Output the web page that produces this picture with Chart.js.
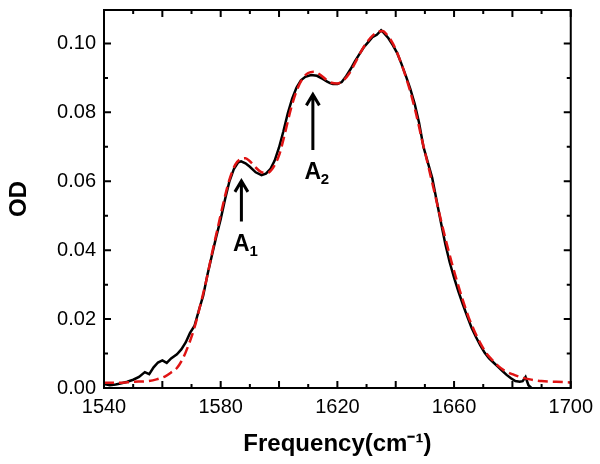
<!DOCTYPE html>
<html>
<head>
<meta charset="utf-8">
<script src="https://cdn.jsdelivr.net/npm/chart.js@4.4.1/dist/chart.umd.min.js"></script>
<style>
  html, body { margin: 0; padding: 0; background: #fff; }
  #OdChart { display: block; }
</style>
</head>
<body>
<canvas id="OdChart" width="600" height="464"></canvas>
<script>
// measured spectrum (black line)
const measuredFreq = [1540, 1542, 1544, 1546, 1548, 1550, 1552, 1554, 1555.5, 1557, 1558.5, 1560, 1561.5, 1563, 1565, 1566.5,
    1568, 1569.5, 1571, 1572.5, 1574, 1575.5, 1577, 1578.5, 1580, 1581.5, 1583, 1584.5, 1586, 1587, 1588.5, 1590,
    1592, 1594, 1595.5, 1597, 1598.5, 1600, 1601.5, 1603, 1604.5, 1606, 1607.5, 1609, 1611, 1613, 1615, 1616.5,
    1617.5, 1618.5, 1620, 1621.5, 1623, 1624.5, 1626, 1627.5, 1629, 1630.5, 1632, 1633.5, 1635, 1636, 1637.5, 1639,
    1640.5, 1642, 1643.5, 1645, 1646.5, 1648, 1649.5, 1651, 1652.5, 1654, 1655.5, 1657, 1658.5, 1660, 1661.5, 1663,
    1664.5, 1666, 1667.5, 1669, 1670.5, 1672, 1673.5, 1675, 1676.5, 1678, 1679.5, 1681, 1682.5, 1683.5, 1684.5, 1685.5, 1686.5];
const measuredOD = [0.0012, 0.0008, 0.0010, 0.0014, 0.0018, 0.0024, 0.0032, 0.0046, 0.0040, 0.0060, 0.0074, 0.0080, 0.0073, 0.0086, 0.0098, 0.0112,
    0.0132, 0.0160, 0.0180, 0.0225, 0.0268, 0.0330, 0.0385, 0.0440, 0.0490, 0.0548, 0.0600, 0.0635, 0.0655, 0.0658, 0.0652, 0.0642,
    0.0626, 0.0618, 0.0622, 0.0635, 0.0660, 0.0698, 0.0745, 0.0797, 0.0840, 0.0872, 0.0893, 0.0903, 0.0908, 0.0906, 0.0897, 0.0889,
    0.0885, 0.0882, 0.0882, 0.0888, 0.0905, 0.0925, 0.0948, 0.0968, 0.0988, 0.1003, 0.1018, 0.1025, 0.1038, 0.1030, 0.1015, 0.0995,
    0.0972, 0.0940, 0.0905, 0.0868, 0.0825, 0.0770, 0.0700, 0.0655, 0.0610, 0.0545, 0.0480, 0.0418, 0.0365, 0.0320, 0.0280, 0.0243,
    0.0208, 0.0175, 0.0148, 0.0124, 0.0102, 0.0086, 0.0074, 0.0062, 0.0050, 0.0038, 0.0028, 0.0020, 0.0018, 0.0020, 0.0032, 0.0008, 0.0];

// fitted curve (red dashed line)
const fitFreq = [1540, 1545, 1550, 1555, 1558, 1561, 1563, 1565, 1567, 1569, 1571, 1573, 1575, 1577, 1579, 1581,
    1583, 1585, 1587, 1588.5, 1590, 1592, 1594, 1596, 1598, 1600, 1602, 1604, 1606, 1608, 1610, 1612,
    1614, 1616, 1618, 1620, 1622, 1624, 1626, 1628, 1630, 1632, 1634, 1635.5, 1637, 1639, 1641, 1643,
    1645, 1647, 1649, 1651, 1653, 1655, 1657, 1659, 1661, 1663, 1665, 1667, 1669, 1671, 1673, 1675,
    1677, 1680, 1683, 1686, 1690, 1695, 1700];
const fitOD = [0.0015, 0.0015, 0.0018, 0.0020, 0.0025, 0.0034, 0.0045, 0.0058, 0.0085, 0.0125, 0.0175, 0.0240, 0.0310, 0.0390, 0.0465, 0.0540,
    0.0605, 0.0648, 0.0665, 0.0667, 0.0658, 0.0640, 0.0626, 0.0624, 0.0640, 0.0675, 0.0738, 0.0808, 0.0862, 0.0897, 0.0914, 0.0918,
    0.0910, 0.0896, 0.0886, 0.0884, 0.0892, 0.0912, 0.0942, 0.0975, 0.1002, 0.1022, 0.1034, 0.1036, 0.1025, 0.1000, 0.0962, 0.0915,
    0.0860, 0.0795, 0.0720, 0.0650, 0.0578, 0.0505, 0.0435, 0.0370, 0.0310, 0.0255, 0.0205, 0.0165, 0.0130, 0.0102, 0.0082, 0.0065,
    0.0052, 0.0040, 0.0031, 0.0025, 0.0020, 0.0018, 0.0016];

// axis tick labels
const xTickLabels = [1540, 1580, 1620, 1660, 1700];
const yTickLabels = [0, 0.02, 0.04, 0.06, 0.08, 0.10];

// peak arrows A1, A2
const peakNames = ['1', '2'];
const peakFreq = [1587.1, 1611.6];
const arrowTip = [0.0604, 0.0855];
const arrowTail = [0.0483, 0.0691];
const labelOD = [0.0421, 0.0631];

const fontFamily = '"Liberation Sans", Arial, sans-serif';

// frame, inward ticks and the peak arrows
const frameAndMarks = {
    id: 'frameAndMarks',
    afterDatasetsDraw(chart) {
        const { ctx, chartArea: a, scales: { x, y } } = chart;
        ctx.save();
        ctx.strokeStyle = '#000';
        ctx.fillStyle = '#000';
        ctx.lineWidth = 2;
        ctx.strokeRect(a.left, a.top, a.right - a.left, a.bottom - a.top);

        ctx.beginPath();
        for (let f = 1540; f <= 1700; f += 10) {
            const px = x.getPixelForValue(f);
            const len = f % 20 === 0 ? 7 : 4;
            ctx.moveTo(px, a.bottom); ctx.lineTo(px, a.bottom - len);
            ctx.moveTo(px, a.top); ctx.lineTo(px, a.top + len);
        }
        for (let i = 0; i <= 10; i++) {
            const py = y.getPixelForValue(i * 0.01);
            const len = i % 2 === 0 ? 7 : 4;
            ctx.moveTo(a.left, py); ctx.lineTo(a.left + len, py);
            ctx.moveTo(a.right, py); ctx.lineTo(a.right - len, py);
        }
        ctx.stroke();

        peakFreq.forEach((f, i) => {
            const px = x.getPixelForValue(f);
            const tip = y.getPixelForValue(arrowTip[i]);
            const tail = y.getPixelForValue(arrowTail[i]);
            ctx.lineWidth = 3;
            ctx.beginPath();
            ctx.moveTo(px, tail); ctx.lineTo(px, tip + 1);
            ctx.moveTo(px - 6.5, tip + 12); ctx.lineTo(px, tip + 1); ctx.lineTo(px + 6.5, tip + 12);
            ctx.stroke();

            const ly = y.getPixelForValue(labelOD[i]);
            const base = ly + 8;
            ctx.font = 'bold 23px ' + fontFamily;
            ctx.textAlign = 'center';
            ctx.textBaseline = 'alphabetic';
            ctx.fillText('A', px, base);
            ctx.font = 'bold 15px ' + fontFamily;
            ctx.textAlign = 'left';
            ctx.fillText(peakNames[i], px + 8, base + 5);
        });
        ctx.restore();
    }
};

new Chart(document.getElementById('OdChart'), {
    type: 'line',
    data: {
        datasets: [
            {
                label: 'Fit',
                data: fitFreq.map((f, i) => ({ x: f, y: fitOD[i] })),
                borderColor: '#e01414',
                borderWidth: 2.5,
                borderDash: [10, 5],
                pointRadius: 0,
                cubicInterpolationMode: 'monotone'
            },
            {
                label: 'Measured',
                data: measuredFreq.map((f, i) => ({ x: f, y: measuredOD[i] })),
                borderColor: '#000',
                borderWidth: 2.5,
                pointRadius: 0,
                tension: 0
            }
        ]
    },
    options: {
        responsive: false,
        animation: false,
        layout: { padding: { top: 10, right: 28, left: 0, bottom: 0 } },
        plugins: { legend: { display: false }, tooltip: { enabled: false } },
        scales: {
            x: {
                type: 'linear',
                min: 1540,
                max: 1700,
                grid: { display: false, drawTicks: false },
                border: { display: false },
                afterFit: s => { s.height = 76; },
                afterBuildTicks: s => { s.ticks = xTickLabels.map(v => ({ value: v })); },
                ticks: {
                    color: '#000',
                    font: { family: fontFamily, size: 20 },
                    padding: 7,
                    maxRotation: 0,
                    autoSkip: false,
                    callback: v => String(v)
                },
                title: {
                    display: true,
                    text: 'Frequency(cm⁻¹)',
                    color: '#000',
                    font: { family: fontFamily, size: 24, weight: 'bold' },
                    padding: { top: 0, bottom: 5 }
                }
            },
            y: {
                min: 0,
                max: 0.1097,
                grid: { display: false, drawTicks: false },
                border: { display: false },
                afterFit: s => { s.width = 104; s.paddingTop = 0; s.paddingBottom = 0; },
                afterBuildTicks: s => { s.ticks = yTickLabels.map(v => ({ value: v })); },
                ticks: {
                    color: '#000',
                    font: { family: fontFamily, size: 20 },
                    padding: 8,
                    autoSkip: false,
                    callback: v => v.toFixed(2)
                },
                title: {
                    display: true,
                    text: 'OD',
                    color: '#000',
                    font: { family: fontFamily, size: 24, weight: 'bold' },
                    padding: { top: 5, bottom: 0 }
                }
            }
        }
    },
    plugins: [frameAndMarks]
});
</script>
</body>
</html>
